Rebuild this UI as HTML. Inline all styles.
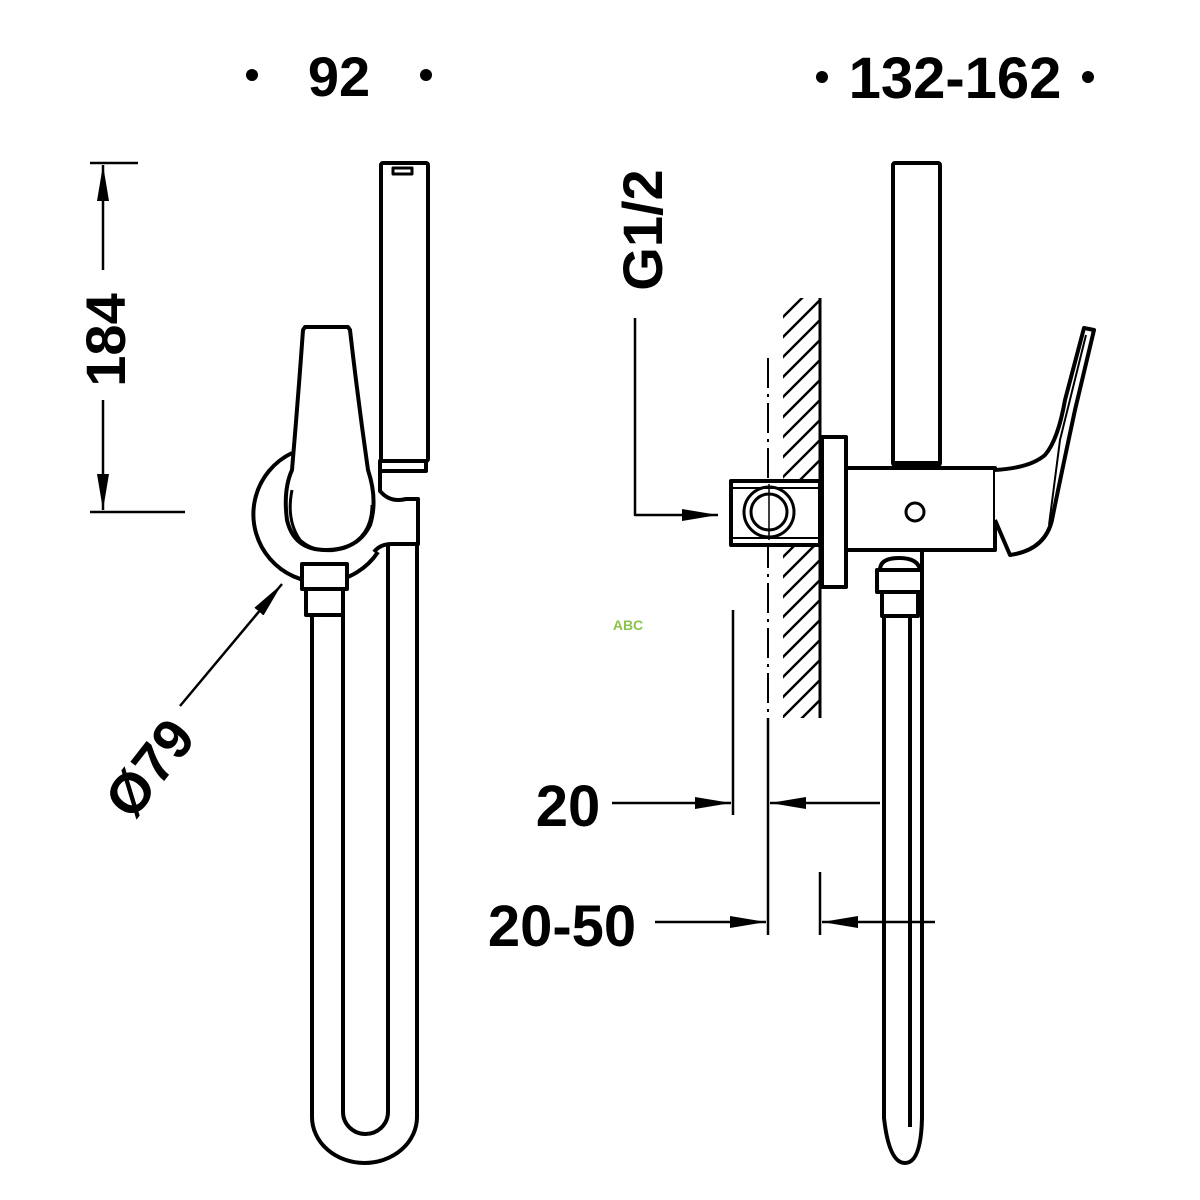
<!DOCTYPE html>
<html><head><meta charset="utf-8"><style>
html,body{margin:0;padding:0;background:#fff}
svg{display:block}
text{font-family:"Liberation Sans",sans-serif;font-weight:bold;fill:#000}
</style></head><body>
<svg width="1200" height="1200" viewBox="0 0 1200 1200" xmlns="http://www.w3.org/2000/svg">
<defs>
<marker id="ar" viewBox="0 0 36 12" refX="36" refY="6" markerWidth="36" markerHeight="12" markerUnits="userSpaceOnUse" orient="auto">
<path d="M0,0 L36,6 L0,12 Z" fill="#000"/></marker>
<clipPath id="wall"><rect x="783" y="298" width="37" height="420"/></clipPath>
</defs>
<rect width="1200" height="1200" fill="#fff"/>

<circle cx="252" cy="75" r="6"/><circle cx="426" cy="75" r="6"/>
<text x="339" y="96" font-size="56" text-anchor="middle">92</text>
<circle cx="822" cy="77" r="6"/><circle cx="1088" cy="77" r="6"/>
<text x="955" y="98" font-size="58" text-anchor="middle">132-162</text>

<g fill="none" stroke="#000" stroke-width="4" stroke-linejoin="round">
<line x1="90" y1="163" x2="138" y2="163" stroke-width="2.5"/>
<line x1="90" y1="512" x2="185" y2="512" stroke-width="2.5"/>
<line x1="103" y1="270" x2="103" y2="165" stroke-width="2.5" marker-end="url(#ar)"/>
<line x1="103" y1="400" x2="103" y2="510" stroke-width="2.5" marker-end="url(#ar)"/>
<line x1="180" y1="706" x2="282" y2="584" stroke-width="2.5" marker-end="url(#ar)"/>

<path d="M292,453 A68,68 0 1 0 378,552" />
<rect x="381" y="163" width="47" height="298" rx="2"/>
<path d="M393,168 h19 v6 h-19 z" stroke-width="3"/>
<rect x="380" y="461" width="46" height="10" fill="#fff"/>
<path d="M380,471 v20 q10,12 26,8 h12 v45 h-26 q-12,0 -18,8" />
<path d="M305,327 L348,327 L350,330 Q358,400 368,470 Q378,500 370,525 Q358,550 326,550 Q294,550 287,520 Q283,490 292,470 Q298,400 303,330 Z" fill="#fff"/>
<path d="M292,490 Q286,520 300,540 Q318,556 345,548 Q372,536 372,505" stroke-width="3"/>
<rect x="302" y="564" width="45" height="25" fill="#fff"/>
<rect x="306" y="589" width="37" height="26" fill="#fff"/>
<path d="M312,615 V1117 A52.5,46 0 0 0 417,1117 V544"/>
<path d="M343,615 V1112 A22.5,22 0 0 0 388,1112 V544"/>

<g clip-path="url(#wall)" stroke-width="2.5">
<path d="M760,340 l80,-80 M760,360 l80,-80 M760,380 l80,-80 M760,400 l80,-80 M760,420 l80,-80 M760,440 l80,-80 M760,460 l80,-80 M760,480 l80,-80 M760,500 l80,-80 M760,520 l80,-80 M760,540 l80,-80 M760,560 l80,-80 M760,580 l80,-80 M760,600 l80,-80 M760,620 l80,-80 M760,640 l80,-80 M760,660 l80,-80 M760,680 l80,-80 M760,700 l80,-80 M760,720 l80,-80 M760,740 l80,-80 M760,760 l80,-80"/>
</g>
<line x1="820" y1="298" x2="820" y2="718" stroke-width="3"/>
<line x1="768" y1="358" x2="768" y2="780" stroke-width="2" stroke-dasharray="30,6,3,6"/>
<rect x="893" y="163" width="47" height="302" rx="2"/>
<line x1="895" y1="464" x2="938" y2="464" stroke-width="6"/>
<rect x="731" y="481" width="89" height="64" fill="#fff"/>
<line x1="733" y1="488" x2="820" y2="488" stroke-width="2"/>
<line x1="733" y1="538" x2="820" y2="538" stroke-width="2"/>
<circle cx="769" cy="512" r="25" stroke-width="3"/>
<circle cx="769" cy="512" r="18" stroke-width="3"/>
<line x1="769" y1="484" x2="769" y2="540" stroke-width="1.5"/>
<rect x="822" y="437" width="24" height="150" fill="#fff"/>
<rect x="846" y="468" width="149" height="82" fill="#fff"/>
<circle cx="915" cy="512" r="9" stroke-width="3"/>
<path d="M995,470 Q1030,468 1045,455 Q1058,440 1065,400 L1084,328 L1094,330 L1075,410 Q1060,480 1052,520 Q1045,550 1010,555 L995,520" fill="#fff"/>
<path d="M1086,335 L1060,440 L1049,525" stroke-width="2"/>
<path d="M880,570 Q880,558 899,558 Q918,558 920,570" fill="#fff"/>
<rect x="877" y="570" width="45" height="22" fill="#fff"/>
<rect x="882" y="592" width="36" height="24" fill="#fff"/>
<path d="M884,616 V1118 Q889,1163 905,1163 Q921,1163 922,1118 V550"/>
<line x1="910" y1="616" x2="910" y2="1127" stroke-width="4"/>

<path d="M635,318 V515 H718" stroke-width="2.5" marker-end="url(#ar)"/>
<line x1="733" y1="610" x2="733" y2="815" stroke-width="2.5"/>
<line x1="768" y1="718" x2="768" y2="935" stroke-width="2.5"/>
<line x1="612" y1="803" x2="731" y2="803" stroke-width="2.5" marker-end="url(#ar)"/>
<line x1="880" y1="803" x2="770" y2="803" stroke-width="2.5" marker-end="url(#ar)"/>
<line x1="820" y1="872" x2="820" y2="935" stroke-width="2.5"/>
<line x1="655" y1="922" x2="766" y2="922" stroke-width="2.5" marker-end="url(#ar)"/>
<line x1="935" y1="922" x2="822" y2="922" stroke-width="2.5" marker-end="url(#ar)"/>
</g>

<text x="568" y="826" font-size="58" text-anchor="middle">20</text>
<text x="562" y="946" font-size="58" text-anchor="middle">20-50</text>
<text transform="translate(125,340) rotate(-90)" font-size="56" text-anchor="middle">184</text>
<text transform="translate(662,230) rotate(-90)" font-size="56" text-anchor="middle">G1/2</text>
<text transform="translate(165,780) rotate(-52)" font-size="56" text-anchor="middle">Ø79</text>
<text x="628" y="630" font-size="14" style="fill:#8bc34a" text-anchor="middle">ABC</text>
</svg>
</body></html>
